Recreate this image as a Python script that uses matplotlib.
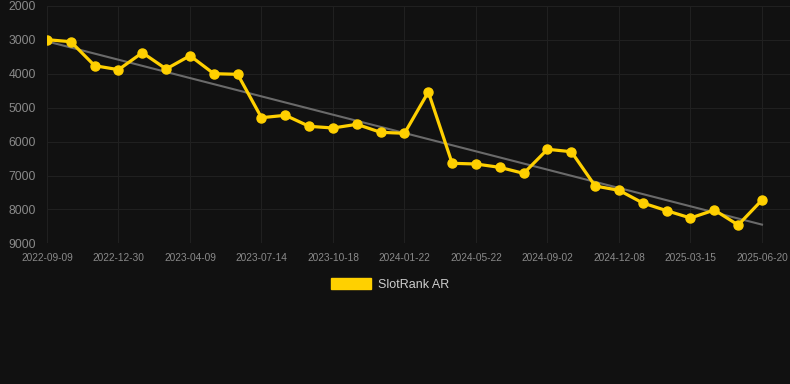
import numpy as np
import matplotlib
matplotlib.use("Agg")
import matplotlib.pyplot as plt
from matplotlib.patches import Patch

series_name = "SlotRank AR"
ranks = [2994, 3053, 3761, 3879, 3377, 3858, 3466, 3997, 4015, 5295,
         5224, 5549, 5599, 5490, 5726, 5755, 4537, 6640, 6661, 6760,
         6937, 6227, 6298, 7310, 7437, 7811, 8038, 8254, 8018, 8460, 7723]
tick_labels = ["2022-09-09", "2022-12-30", "2023-04-09", "2023-07-14",
               "2023-10-18", "2024-01-22", "2024-05-22", "2024-09-02",
               "2024-12-08", "2025-03-15", "2025-06-20"]
y_ticks = [2000, 3000, 4000, 5000, 6000, 7000, 8000, 9000]

plt.rcParams['font.family'] = ['Liberation Sans', 'DejaVu Sans']

bg = "#111111"
yellow = "#FFD000"

fig = plt.figure(figsize=(7.9, 3.84), dpi=100, facecolor=bg)
ax = fig.add_axes([47/790, 1-243.3/384, 1-47/790, (243.3-6)/384])
ax.set_facecolor(bg)

x = np.arange(len(ranks))
coef = np.polyfit(x, ranks, 1)
ax.plot(x, np.polyval(coef, x), color="#6a6a6a", lw=1.5, zorder=2)
ax.plot(x, ranks, color=yellow, lw=2.3, marker='o', markersize=6.5,
        markerfacecolor=yellow, markeredgecolor=yellow, zorder=3)

ax.set_ylim(9000, 2000)
ax.set_xlim(0, 30 + 28/23.83)
ax.set_yticks(y_ticks)
ax.set_yticklabels([str(v) for v in y_ticks])
ax.set_xticks(x[::3])
ax.set_xticklabels(tick_labels)

ax.grid(True, color="#202020", lw=0.8)
ax.set_axisbelow(True)
for s in ax.spines.values():
    s.set_visible(False)
ax.tick_params(axis='y', length=0, pad=8, labelsize=8.7, labelcolor="#8a8a8a")
ax.tick_params(axis='x', length=0, pad=7, labelsize=7.3, labelcolor="#8a8a8a")

handle = Patch(facecolor=yellow, edgecolor=yellow)
leg = fig.legend([handle], [series_name], loc='center',
                 bbox_to_anchor=(390/790, 1-284.5/384), frameon=False,
                 fontsize=9, handlelength=3.2, handleheight=0.95,
                 handletextpad=0.5, labelcolor="#cccccc")

fig.savefig("out.png", dpi=100, facecolor=bg)
